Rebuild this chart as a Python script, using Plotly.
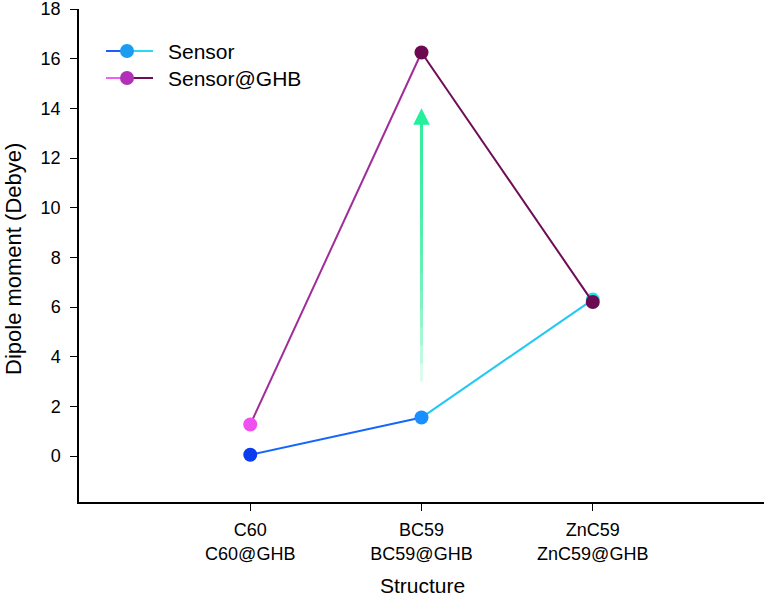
import plotly.graph_objects as go

categories = ["C60", "BC59", "ZnC59"]
tick_labels = ["C60<br>C60@GHB", "BC59<br>BC59@GHB", "ZnC59<br>ZnC59@GHB"]
series_names = ["Sensor", "Sensor@GHB"]
sensor = [0.05, 1.55, 6.3]
sensor_ghb = [1.27, 16.25, 6.2]
arrow_start, arrow_end = 3.0, 14.0

x_idx = list(range(len(categories)))

sensor_seg_colors = ["#1466ff", "#22c8f4"]
sensor_marker_colors = ["#0a3cf0", "#1a8fff", "#22e0f0"]
ghb_seg_colors = ["#a02c98", "#6e0c55"]
ghb_marker_colors = ["#f050f0", "#6b0a50", "#6b0a50"]

fig = go.Figure()

# gradient arrow: stacked translucent lines
n = 14
for i in range(n):
    y0 = arrow_start + (arrow_end - 0.8 - arrow_start) * i / n
    fig.add_shape(type="line", x0=1, x1=1, y0=y0, y1=arrow_end - 0.6,
                  xref="x", yref="y", line=dict(color="rgba(40,235,150,0.16)", width=3), layer="below")
fig.add_annotation(x=1, y=arrow_end, ax=1, ay=arrow_end - 0.8, xref="x", yref="y", axref="x", ayref="y",
                   showarrow=True, arrowhead=2, arrowsize=1.1, arrowwidth=3, arrowcolor="#22f09a", text="")

def add_segments(vals, seg_colors, marker_colors, name):
    for i in range(len(vals) - 1):
        fig.add_trace(go.Scatter(x=[x_idx[i], x_idx[i + 1]], y=[vals[i], vals[i + 1]], mode="lines",
                                 line=dict(color=seg_colors[i], width=2), showlegend=False, hoverinfo="skip"))
    fig.add_trace(go.Scatter(x=x_idx, y=vals, mode="markers", name=name,
                             marker=dict(color=marker_colors, size=14), showlegend=False))

add_segments(sensor, sensor_seg_colors, sensor_marker_colors, series_names[0])
add_segments(sensor_ghb, ghb_seg_colors, ghb_marker_colors, series_names[1])

# manual legend (pixel -> paper conversion)
L, R, T, B = 79, 764, 9, 502
def px(xp):
    return (xp - L) / (R - L)
def py(yp):
    return (B - yp) / (B - T)

legend_rows = [
    (series_names[0], 51, ["#1f5cff", "#2ad8f4"], "#1a9cf0"),
    (series_names[1], 78, ["#f060f0", "#6e0c55"], "#b030b8"),
]
for name, yrow, lc, mc in legend_rows:
    fig.add_shape(type="line", xref="paper", yref="paper", x0=px(106), x1=px(127), y0=py(yrow), y1=py(yrow),
                  line=dict(color=lc[0], width=2))
    fig.add_shape(type="line", xref="paper", yref="paper", x0=px(127), x1=px(153), y0=py(yrow), y1=py(yrow),
                  line=dict(color=lc[1], width=2))
    fig.add_shape(type="circle", xref="paper", yref="paper", x0=px(120), x1=px(134), y0=py(yrow + 7), y1=py(yrow - 7),
                  fillcolor=mc, line=dict(width=0))
    fig.add_annotation(xref="paper", yref="paper", x=px(166), y=py(yrow), text=name, showarrow=False,
                       xanchor="left", yanchor="middle", font=dict(size=21))

# axis titles as annotations for exact placement
fig.add_annotation(xref="paper", yref="paper", x=px(13), y=py(259), text="Dipole moment (Debye)",
                   textangle=-90, showarrow=False, xanchor="center", yanchor="middle", font=dict(size=22))
fig.add_annotation(xref="paper", yref="paper", x=px(422), y=py(585), text="Structure",
                   showarrow=False, xanchor="center", yanchor="middle", font=dict(size=21))

fig.update_layout(
    width=768, height=599,
    margin=dict(l=L, r=768 - R, t=T, b=599 - B),
    paper_bgcolor="white", plot_bgcolor="white",
    font=dict(family="Liberation Sans, Arial", size=18, color="black"),
    showlegend=False,
    xaxis=dict(range=[-1, 3], tickmode="array", tickvals=x_idx, ticktext=tick_labels,
               showline=True, linecolor="black", linewidth=1.5, ticks="outside", ticklen=7,
               tickcolor="black", showgrid=False, zeroline=False, automargin=False,
               ticklabelstandoff=4, tickfont=dict(size=18)),
    yaxis=dict(range=[-1.85, 18], tickmode="array", tickvals=list(range(0, 19, 2)),
               showline=True, linecolor="black", linewidth=1.5, ticks="outside", ticklen=7,
               tickcolor="black", showgrid=False, zeroline=False, automargin=False,
               ticklabeloverflow="allow", ticklabelstandoff=6, tickfont=dict(size=18)),
)

fig.write_html("out.html")
